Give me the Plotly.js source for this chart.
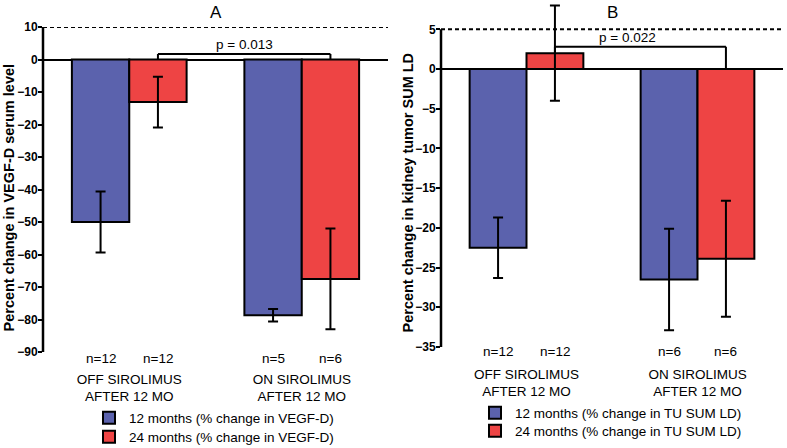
<!DOCTYPE html>
<html>
<head>
<meta charset="utf-8">
<script src="https://cdn.plot.ly/plotly-3.0.1.min.js"></script>
<style>html,body{margin:0;padding:0;background:#fff;overflow:hidden;}#chart{width:787px;height:448px;}</style>
</head>
<body>
<div id="chart"></div>
<script>
// ---- data ----
const categories = ['OFF SIROLIMUS<br>AFTER 12 MO', 'ON SIROLIMUS<br>AFTER 12 MO'];

// Panel A: % change in VEGF-D serum level
const vegf12 = [-50.0, -78.7];
const vegf12Err = [9.4, 1.9];
const vegf24 = [-13.1, -67.5];
const vegf24Err = [7.8, 15.5];
const nVegf12 = [12, 5];
const nVegf24 = [12, 6];

// Panel B: % change in kidney tumor SUM LD
const tu12 = [-22.5, -26.5];
const tu12Err = [3.8, 6.4];
const tu24 = [2.0, -23.9];
const tu24Err = [6.0, 7.3];
const nTu12 = [12, 6];
const nTu24 = [12, 6];

const seriesNamesA = ['12 months (% change in VEGF-D)', '24 months (% change in VEGF-D)'];
const seriesNamesB = ['12 months (% change in TU SUM LD)', '24 months (% change in TU SUM LD)'];
const panelTitles = ['A', 'B'];
const yTitles = ['Percent change in VEGF-D serum level', 'Percent change in kidney tumor SUM LD'];
const pLabels = ['p = 0.013', 'p = 0.022'];
const bracketTop = [1.7, 2.8];
const yAxisTop = [10, 5];      // top of the drawn axis (dotted line level)
const yAxisBottom = [-90, -35];

// ---- style ----
const BLUE = '#5B62AD';
const RED = '#EE4444';
const FONT = 'Liberation Sans, Arial, sans-serif';
const W = 787, H = 448;
const BARGAP = 0.335;
const half = (1 - BARGAP) / 4; // offset of each bar center from category center

function barTrace(name, y, err, color, xa, ya, legend) {
  return {
    type: 'bar', name: name, x: categories, y: y,
    xaxis: xa, yaxis: ya, legend: legend, cliponaxis: false,
    marker: {color: color, line: {color: '#000', width: 2}},
    error_y: {type: 'data', array: err, visible: true, color: '#000', thickness: 2, width: 5},
    hoverinfo: 'skip'
  };
}

const data = [
  barTrace(seriesNamesA[0], vegf12, vegf12Err, BLUE, 'x', 'y', 'legend'),
  barTrace(seriesNamesA[1], vegf24, vegf24Err, RED, 'x', 'y', 'legend2'),
  barTrace(seriesNamesB[0], tu12, tu12Err, BLUE, 'x2', 'y2', 'legend3'),
  barTrace(seriesNamesB[1], tu24, tu24Err, RED, 'x2', 'y2', 'legend4')
];

function px(x) { return x / W; }
function py(y) { return 1 - y / H; }

function yAxis(range, dtick, domain, anchor) {
  return {
    range: range, dtick: dtick, tick0: 0, domain: domain, anchor: anchor,
    showline: false,
    ticks: 'outside', ticklen: 4, tickwidth: 2, tickcolor: '#000',
    ticklabelstandoff: -2,
    tickfont: {family: FONT, size: 12, color: '#000', weight: 'bold'},
    showgrid: false, zeroline: true, zerolinecolor: '#000', zerolinewidth: 2,
    fixedrange: true
  };
}
function xAxis(domain, anchor) {
  return {
    domain: domain, anchor: anchor, type: 'category', range: [-0.5, 1.5],
    showline: false, zeroline: false, showgrid: false, ticks: '',
    tickfont: {family: FONT, size: 13.5, color: '#000'},
    ticklabelstandoff: 17, fixedrange: true
  };
}

const shapes = [];
const annotations = [];
const panels = [
  {xa: 'x', ya: 'y', n12: nVegf12, n24: nVegf24, v24: vegf24, nY: 358, pShift: 0, titleX: 8.5, titleY: 198},
  {xa: 'x2', ya: 'y2', n12: nTu12, n24: nTu24, v24: tu24, nY: 351, pShift: -13, titleX: 407, titleY: 192.5}
];
panels.forEach((p, k) => {
  // y axis line (stops at the dotted reference level)
  shapes.push({type: 'line', xref: p.xa + ' domain', yref: p.ya, x0: 0, x1: 0,
    y0: yAxisBottom[k], y1: yAxisTop[k], line: {color: '#000', width: 2.5}});
  // dotted reference line at top of axis
  shapes.push({type: 'line', xref: p.xa + ' domain', yref: p.ya, x0: 0, x1: 1, y0: yAxisTop[k], y1: yAxisTop[k],
    line: {color: '#000', width: 2, dash: '4px,3px'}});
  // significance bracket between the 24-month bars
  const xl = 0 + half, xr = 1 + half;
  const yl = Math.max(0, p.v24[0]), yr = Math.max(0, p.v24[1]);
  const bt = bracketTop[k];
  shapes.push({type: 'line', xref: p.xa, yref: p.ya, x0: xl, x1: xl, y0: yl, y1: bt, line: {color: '#000', width: 2}});
  shapes.push({type: 'line', xref: p.xa, yref: p.ya, x0: xl, x1: xr, y0: bt, y1: bt, line: {color: '#000', width: 2}});
  shapes.push({type: 'line', xref: p.xa, yref: p.ya, x0: xr, x1: xr, y0: yr, y1: bt, line: {color: '#000', width: 2}});
  annotations.push({xref: p.xa, yref: p.ya, x: (xl + xr) / 2, y: bt, yanchor: 'bottom', yshift: 0, xshift: p.pShift,
    text: pLabels[k], showarrow: false, font: {family: FONT, size: 13.5, color: '#000'}});
  // n labels under bars
  categories.forEach((c, i) => {
    annotations.push({xref: p.xa, yref: 'paper', x: i - half, y: py(p.nY), yanchor: 'middle',
      text: 'n=' + p.n12[i], showarrow: false, font: {family: FONT, size: 13.5, color: '#000'}});
    annotations.push({xref: p.xa, yref: 'paper', x: i + half, y: py(p.nY), yanchor: 'middle',
      text: 'n=' + p.n24[i], showarrow: false, font: {family: FONT, size: 13.5, color: '#000'}});
  });
  // panel title
  annotations.push({xref: p.xa + ' domain', yref: 'paper', x: 0.5, y: py(12), yanchor: 'middle',
    text: panelTitles[k], showarrow: false, font: {family: FONT, size: 17, color: '#000'}});
  // y axis title
  annotations.push({xref: 'paper', yref: 'paper', x: px(p.titleX), y: py(p.titleY), xanchor: 'center', yanchor: 'middle',
    textangle: -90, text: yTitles[k], showarrow: false, font: {family: FONT, size: 14.5, color: '#000', weight: 'bold'}});
});

const legendStyle = (x, y) => ({
  x: x, y: y, xanchor: 'left', yanchor: 'middle', xref: 'paper', yref: 'paper',
  orientation: 'v', bgcolor: 'rgba(0,0,0,0)', borderwidth: 0, tracegroupgap: 0,
  font: {family: FONT, size: 13.5, color: '#000'}, traceorder: 'normal'
});

// B y-axis extends above 5 (invisible) so the large error bar is not cut off
const scaleB = (347 - 29.3) / (yAxisTop[1] - yAxisBottom[1]);
const topB = 8.5;
const layout = {
  width: W, height: H,
  margin: {l: 0, r: 0, t: 0, b: 0, autoexpand: false},
  paper_bgcolor: '#fff', plot_bgcolor: '#fff',
  barmode: 'group', bargap: BARGAP, bargroupgap: 0,
  showlegend: true,
  xaxis: xAxis([px(43), px(388)], 'y'),
  yaxis: yAxis([yAxisBottom[0], yAxisTop[0]], 10, [py(352), py(27)], 'x'),
  xaxis2: xAxis([px(441), px(783)], 'y2'),
  yaxis2: yAxis([yAxisBottom[1], topB], 5, [py(347), py(347 - (topB - yAxisBottom[1]) * scaleB)], 'x2'),
  legend: legendStyle(px(89), py(418)),
  legend2: legendStyle(px(89), py(437)),
  legend3: legendStyle(px(475), py(413)),
  legend4: legendStyle(px(475), py(431)),
  shapes: shapes,
  annotations: annotations
};

Plotly.newPlot('chart', data, layout, {displayModeBar: false, staticPlot: true});
</script>
</body>
</html>
